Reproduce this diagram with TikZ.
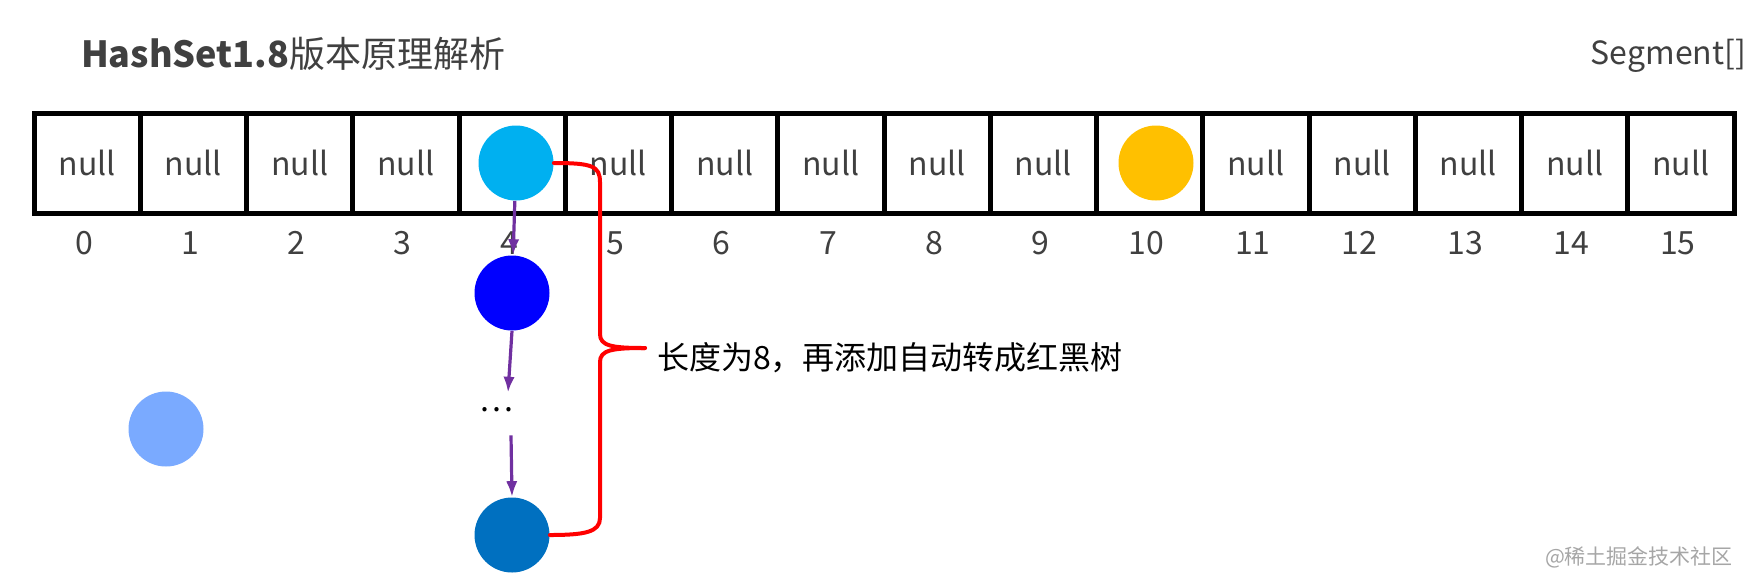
\documentclass[tikz,border=0pt]{standalone}
\usepackage{fontspec}
\setmainfont{Noto Sans CJK SC}
\usetikzlibrary{arrows.meta, positioning}

\definecolor{headcyan}{HTML}{00B0F0}
\definecolor{nodeblue}{HTML}{0000FF}
\definecolor{taildeep}{HTML}{0070C0}
\definecolor{loneblue}{HTML}{7AAAFF}
\definecolor{slotgold}{HTML}{FFC000}
\definecolor{linkpurple}{HTML}{7030A0}
\definecolor{inkgray}{HTML}{404040}

\begin{document}
\begin{tikzpicture}[
  x=0.5pt, y=-0.5pt,
  >={Latex[length=2.8mm, width=2mm]},
  cell/.style={draw, line width=2.5pt, minimum width=53.125pt, minimum height=50pt,
               inner sep=0pt, font=\fontsize{16}{18}\selectfont, text=inkgray},
  idx/.style={font=\fontsize{16}{18}\selectfont, text=inkgray},
  entry/.style={circle, minimum size=37.5pt, inner sep=0pt},
  link/.style={->, draw=linkpurple, line width=1.6pt},
  brace/.style={draw=red, line width=2pt, line cap=round}
]
  \useasboundingbox (0,0) rectangle (1758,575);

  % title and array name
  \node[anchor=west, text=inkgray, font=\fontsize{18}{20}\selectfont]
    (title) at (74,54) {\textbf{HashSet1.8}版本原理解析};
  \node[anchor=east, text=inkgray, font=\fontsize{16}{18}\selectfont]
    (segname) at (1753,56) {Segment[]};

  % ===========================================================
  % the table: 16 slots with their indices
  % ===========================================================
  \foreach \i in {0,...,15} {
    \ifnum\i=4 \def\txt{}\else\ifnum\i=10 \def\txt{}\else\def\txt{null}\fi\fi
    \node[cell] (c\i) at ({34+106.25*(\i+0.5)},163) {\txt};
    \node[idx] (i\i) at ({34+106.25*(\i+0.5)-3},243) {\i};
  }

  % entries stored in the slots
  \node[entry, fill=headcyan] (head) at (516,163) {};
  \node[entry, fill=slotgold] (gold) at (1156,163) {};

  % ===========================================================
  % linked list hanging from slot 4
  % ===========================================================
  \node[entry, fill=nodeblue] (second) at (512,293) {};
  \node[font=\fontsize{16}{18}\selectfont] (dots) at (496,410) {\dots};
  \node[entry, fill=taildeep] (tail) at (512,535) {};
  \node[entry, fill=loneblue] (lone) at (166,429) {};

  \draw[link] (head) -- (second);
  \draw[link] (second.south) -- ([xshift=6pt, yshift=4pt]dots.north);
  \draw[link] ([xshift=7.5pt, yshift=-8pt]dots.south) -- (tail.north);

  % red brace from the head to the tail
  \coordinate (tip) at (645,348);
  \draw[brace] (head.east) .. controls (592,163) and (600,166) .. (600,182)
    -- (600,334) .. controls (600,346) and (612,348) .. (tip);
  \draw[brace] (tip) .. controls (612,348) and (600,350) .. (600,362)
    -- (600,518) .. controls (600,532) and (585,535) .. (tail.east);
  \node[anchor=west, font=\fontsize{16}{18}\selectfont] (note) at (650,358)
    {长度为8，再添加自动转成红黑树};

  % watermark
  \node[anchor=east, text=black!35, font=\fontsize{10.5}{12}\selectfont]
    (mark) at (1740,557) {@稀土掘金技术社区};
\end{tikzpicture}
\end{document}
